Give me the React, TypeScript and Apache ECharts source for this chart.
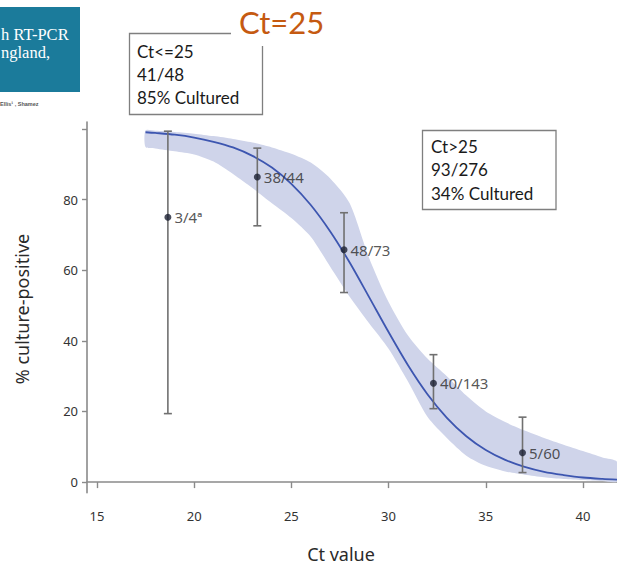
import React, { useEffect, useRef } from 'react';
import * as echarts from 'echarts';

// Fitted curve and its confidence band (Ct value -> % culture-positive)
const ctGrid = [17.5, 18, 19, 20, 21, 22, 23, 24, 25, 26, 27, 28, 29, 30, 31, 32, 33, 34, 35, 36, 37, 38, 39, 40, 41, 41.75];
const fitCurve = [99.1, 98.9, 98.4, 97.6, 96.4, 94.8, 92.4, 89.1, 84.5, 78.5, 71.0, 62.2, 52.4, 42.5, 33.1, 24.9, 18.2, 13.0, 9.1, 6.3, 4.3, 2.9, 2.0, 1.3, 0.9, 0.7];
const bandUpper = [99.6, 99.5, 99.2, 98.7, 98.0, 97.2, 96.2, 94.8, 93.0, 90.5, 86.0, 79.0, 63.5, 51.0, 41.5, 35.0, 30.0, 24.5, 20.0, 17.0, 14.6, 12.5, 10.6, 8.8, 7.0, 5.8];
const bandLower = [94.9, 94.5, 93.7, 92.8, 90.8, 87.3, 83.3, 79.0, 74.8, 69.5, 61.0, 52.5, 45.0, 37.8, 28.5, 18.5, 12.5, 7.5, 4.6, 3.0, 2.1, 1.4, 0.9, 0.6, 0.3, 0.2];

// Observed groups
const pointCt = [18.65, 23.25, 27.71, 32.31, 36.89];
const pointPct = [75.0, 86.4, 65.8, 28.0, 8.3];
const ciLow = [19.4, 72.6, 53.7, 20.8, 2.7];
const ciHigh = [99.4, 94.6, 76.3, 36.1, 18.4];
const pointLabels = ['3/4ª', '38/44', '48/73', '40/143', '5/60'];

// Axis ticks
const xTicks = [15, 20, 25, 30, 35, 40];
const yTicks = [0, 20, 40, 60, 80, 100];
const yTickLabels = [0, 20, 40, 60, 80];

// Annotation texts
const leftBoxLines = ['Ct<=25', '41/48', '85% Cultured'];
const rightBoxLines = ['Ct>25', '93/276', '34% Cultured'];
const thresholdText = 'Ct=25';
const headerLines = ['h RT-PCR', 'ngland,'];
const authorsText = 'Ellis¹ , Shamez';
const xName = 'Ct value';
const yName = '% culture-positive';

export default function App() {
  const ref = useRef<HTMLDivElement>(null);

  useEffect(() => {
    const chart = echarts.init(ref.current!, null, { renderer: 'svg' });
    const pairs = (ys: number[]) => ctGrid.map((x, i) => [x, ys[i]]);
    const axisGray = '#8a8a8a';
    const calibri = 'Lato';

    const graphic: any[] = [
      { type: 'rect', shape: { x: 0, y: 7, width: 80, height: 85 }, style: { fill: '#1b7b9b' } },
      ...headerLines.map((t, i) => ({
        type: 'text', x: 1, y: 34.5 + i * 18,
        style: { text: t, font: '16.5px "Liberation Serif"', fill: '#ffffff', align: 'left', verticalAlign: 'middle' },
      })),
      { type: 'text', x: 0, y: 103.5, style: { text: authorsText, font: 'bold 5.5px "Liberation Sans"', fill: '#555555', align: 'left', verticalAlign: 'middle' } },
      { type: 'rect', shape: { x: 129.5, y: 33.5, width: 133, height: 81 }, style: { fill: '#ffffff', stroke: '#7f7f7f', lineWidth: 1.3 } },
      { type: 'rect', shape: { x: 231, y: 0, width: 110, height: 46 }, style: { fill: '#ffffff' } },
      { type: 'text', x: 239, y: 22, style: { text: thresholdText, font: `31px ${calibri}`, fill: '#c55a11', align: 'left', verticalAlign: 'middle' } },
      ...leftBoxLines.map((t, i) => ({
        type: 'text', x: 137, y: 51.5 + i * 23,
        style: { text: t, font: `17px ${calibri}`, fill: '#1a1a1a', align: 'left', verticalAlign: 'middle' },
      })),
      { type: 'rect', shape: { x: 422.5, y: 130.5, width: 133.5, height: 79 }, style: { fill: '#ffffff', stroke: '#7f7f7f', lineWidth: 1.3 } },
      ...rightBoxLines.map((t, i) => ({
        type: 'text', x: 431, y: 146.5 + i * 23.3,
        style: { text: t, font: `17px ${calibri}`, fill: '#1a1a1a', align: 'left', verticalAlign: 'middle' },
      })),
      { type: 'text', x: 341, y: 554, style: { text: xName, font: '18px "Noto Sans"', fill: '#2a2a2a', align: 'center', verticalAlign: 'middle' } },
      { type: 'text', x: 22, y: 309, rotation: Math.PI / 2, style: { text: yName, font: '18px "Noto Sans"', fill: '#2a2a2a', align: 'center', verticalAlign: 'middle' } },
    ];

    chart.setOption({
      animation: false,
      backgroundColor: '#ffffff',
      textStyle: { fontFamily: '"Noto Sans"' },
      grid: { left: 87, right: 0, top: 122, bottom: 73.3, containLabel: false },
      xAxis: {
        type: 'value', min: 14.49, max: 41.75,
        splitLine: { show: false },
        axisLine: { show: true, lineStyle: { color: axisGray, width: 1.6 } },
        axisTick: { show: true, customValues: xTicks, length: 6, lineStyle: { color: axisGray, width: 1.4 } },
        axisLabel: { customValues: xTicks, margin: 17, fontSize: 13, color: '#333333' },
      },
      yAxis: {
        type: 'value', min: -3, max: 102,
        splitLine: { show: false },
        axisLine: { show: true, lineStyle: { color: axisGray, width: 1.6 } },
        axisTick: { show: true, customValues: yTicks, length: 5, lineStyle: { color: axisGray, width: 1.4 } },
        axisLabel: { customValues: yTickLabels, margin: 9, fontSize: 13, color: '#333333' },
      },
      graphic,
      series: [
        {
          // confidence band: one polygon, upper edge then lower edge, through the axis scales
          type: 'custom', z: 1, silent: true,
          data: [[ctGrid[0], bandLower[0], bandUpper[0]]],
          encode: { x: 0, y: [1, 2] },
          renderItem: (params: any, api: any) => {
            const top = ctGrid.map((x, i) => api.coord([x, bandUpper[i]]));
            const bottom = ctGrid.map((x, i) => api.coord([x, bandLower[i]])).reverse();
            return {
              type: 'polygon',
              shape: { points: top.concat(bottom), smooth: 0.25 },
              style: { fill: '#cfd4ea' },
            };
          },
        },
        {
          type: 'line', data: pairs(fitCurve), symbol: 'none', smooth: 0.3,
          lineStyle: { color: '#3d56b0', width: 1.8 }, z: 2,
        },
        {
          type: 'custom', z: 3,
          data: pointCt.map((x, i) => [x, ciLow[i], ciHigh[i]]),
          encode: { x: 0, y: [1, 2] },
          renderItem: (params: any, api: any) => {
            const x = api.value(0);
            const lo = api.coord([x, api.value(1)]);
            const hi = api.coord([x, api.value(2)]);
            const w = 4;
            const style = { stroke: '#707070', lineWidth: 1.6 };
            return {
              type: 'group',
              children: [
                { type: 'line', shape: { x1: lo[0], y1: lo[1], x2: hi[0], y2: hi[1] }, style },
                { type: 'line', shape: { x1: lo[0] - w, y1: lo[1], x2: lo[0] + w, y2: lo[1] }, style },
                { type: 'line', shape: { x1: hi[0] - w, y1: hi[1], x2: hi[0] + w, y2: hi[1] }, style },
              ],
            };
          },
        },
        {
          type: 'scatter', z: 4, symbolSize: 7,
          itemStyle: { color: '#1c2133' },
          data: pointCt.map((x, i) => [x, pointPct[i]]),
          label: {
            show: true, position: 'right', distance: 3, fontSize: 15, color: '#2b2b2b',
            formatter: (p: any) => pointLabels[p.dataIndex],
          },
        },
      ],
    });
    return () => chart.dispose();
  }, []);

  return (
    <div
      ref={ref}
      style={{ position: 'fixed', left: 0, top: 0, width: 617, height: 566, background: '#ffffff' }}
    />
  );
}
